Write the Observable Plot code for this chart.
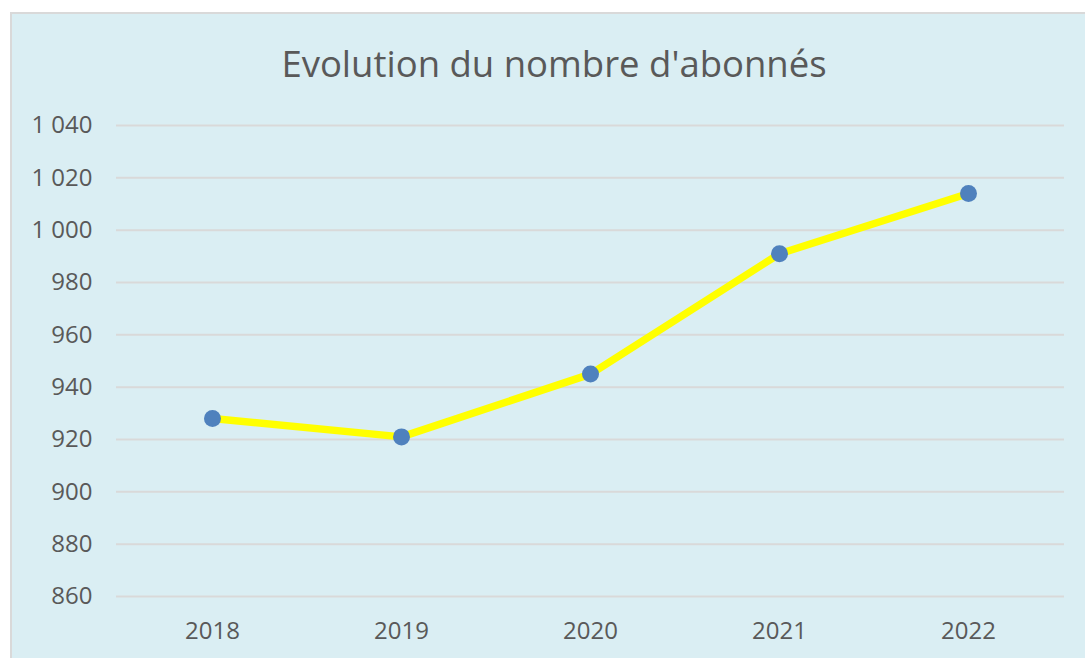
<!DOCTYPE html>
<html>
<head>
<meta charset="utf-8">
<script src="https://cdn.jsdelivr.net/npm/d3@7"></script>
<script src="https://cdn.jsdelivr.net/npm/@observablehq/plot@0.6"></script>
<style>
  html, body { margin: 0; padding: 0; background: #ffffff; }
  body { width: 1085px; height: 658px; overflow: hidden; position: relative; font-family: "Open Sans", sans-serif; }
  #frame { position: absolute; left: 10px; top: 12px; width: 1090px; height: 660px; background: #DAEEF3; border-left: 2px solid #D9D9D9; border-top: 2px solid #D9D9D9; box-sizing: border-box; }
  #title { position: absolute; left: 0; width: 1108px; top: 38px; text-align: center; font-size: 36.5px; color: #595959; line-height: 50px; }
  #chart { position: absolute; left: 0; top: 0; }
</style>
</head>
<body>
<div id="frame"></div>
<div id="title">Evolution du nombre d'abonnés</div>
<div id="chart"></div>
<script>
const years = ["2018", "2019", "2020", "2021", "2022"];
const subscribers = [928, 921, 945, 991, 1014];
const yTicks = [860, 880, 900, 920, 940, 960, 980, 1000, 1020, 1040];

const data = years.map((y, i) => ({year: y, value: subscribers[i]}));
const fr = d3.formatLocale({decimal: ",", thousands: "\u00a0", grouping: [3], currency: ["", " €"]}).format(",");

const plot = Plot.plot({
  width: 1085,
  height: 658,
  marginLeft: 116,
  marginRight: 21,
  marginTop: 125,
  marginBottom: 62,
  style: {background: "transparent", fontFamily: "Open Sans, sans-serif", fontSize: "24px", color: "#595959"},
  x: {type: "point", domain: years, padding: 0.5, label: null},
  y: {domain: [860, 1040], label: null},
  marks: [
    Plot.ruleY(yTicks, {stroke: "#D9D9D9", strokeWidth: 2}),
    Plot.axisX({tickSize: 0, tickPadding: 25, fill: "#595959", fontSize: 24}),
    Plot.axisY({ticks: yTicks, tickSize: 0, tickPadding: 24, tickFormat: d => fr(d), fill: "#595959", fontSize: 24}),
    Plot.line(data, {x: "year", y: "value", stroke: "#FFFF00", strokeWidth: 7.5, strokeLinejoin: "round"}),
    Plot.dot(data, {x: "year", y: "value", r: 8.5, fill: "#4F81BD", stroke: "none"})
  ]
});
document.getElementById("chart").appendChild(plot);
</script>
</body>
</html>
